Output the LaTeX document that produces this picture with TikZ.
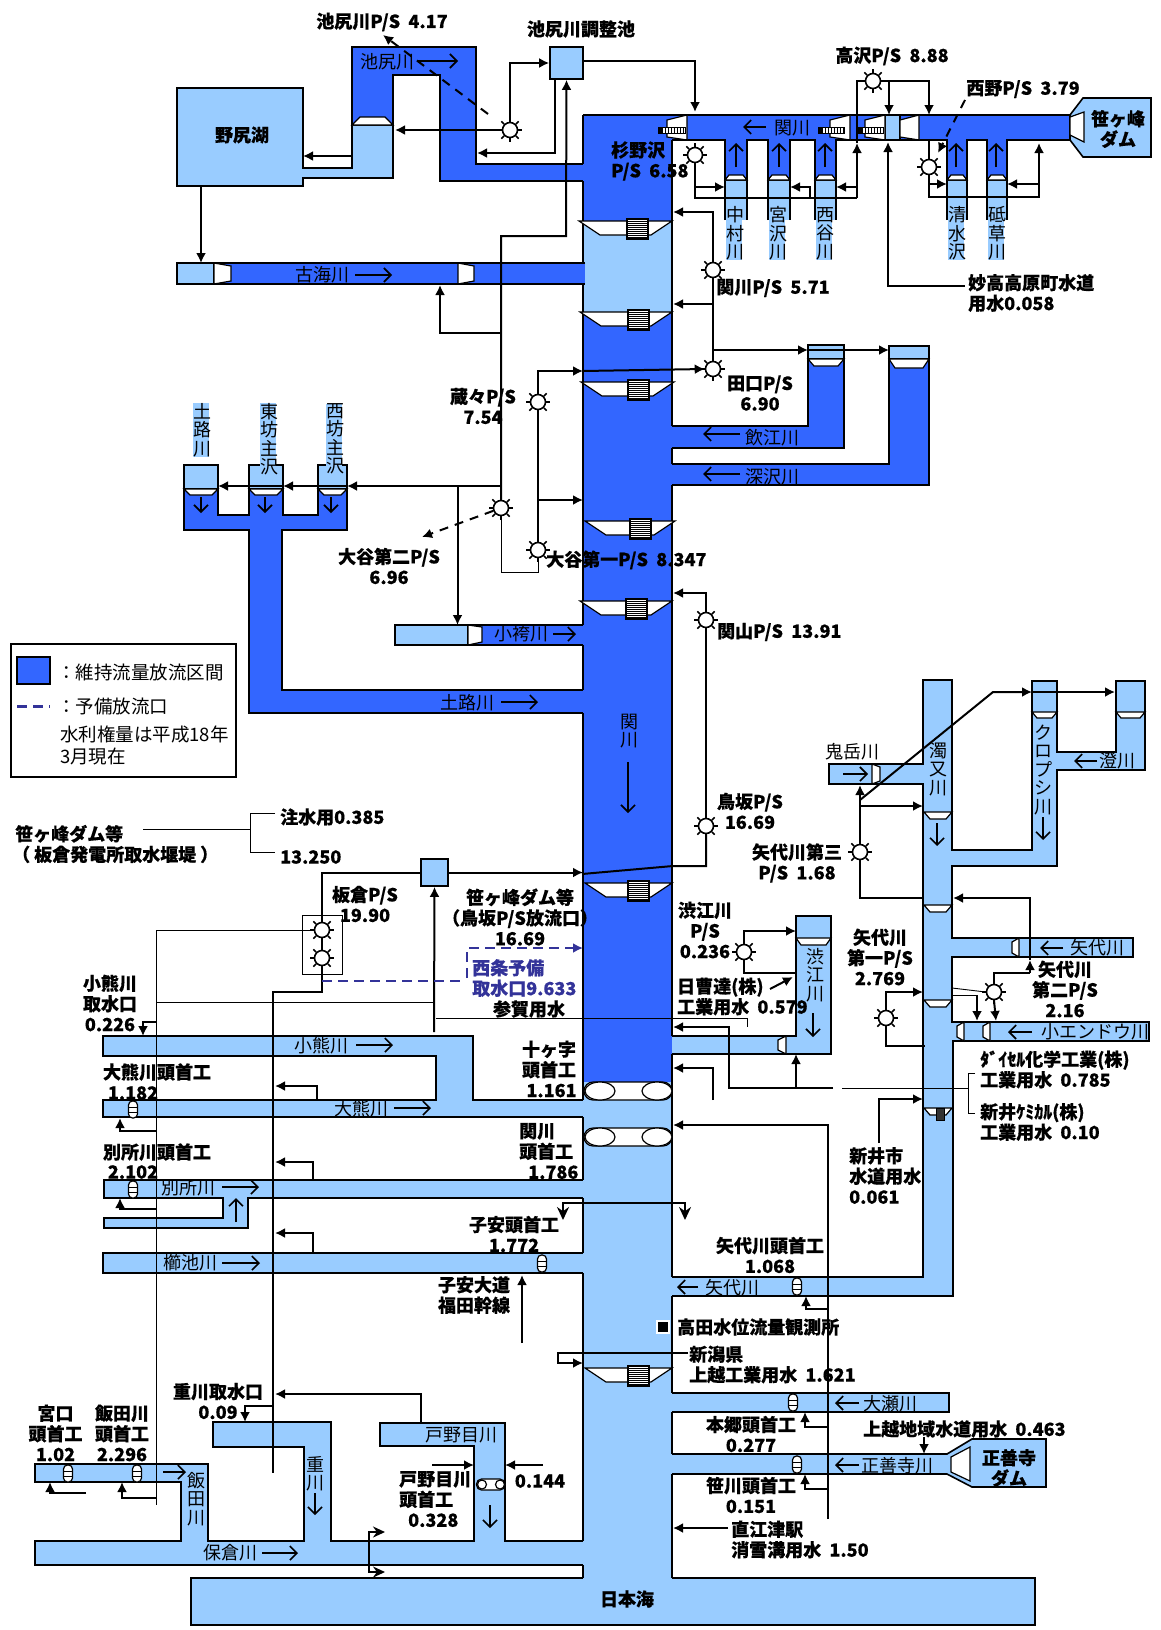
\documentclass[tikz,border=0pt]{standalone}
\usepackage{fontspec}
\usetikzlibrary{arrows.meta}
\newfontfamily\jp[WordSpace=2, BoldFeatures={FakeBold=0.4}]{Noto Sans CJK JP}
\definecolor{ltriver}{HTML}{99CCFF}
\definecolor{bluriver}{HTML}{3366FF}
\definecolor{spare}{HTML}{333399}
% x y: pixel position, first two arguments of each macro
\newcommand{\pump}[2]{\node[pumpnode] (#1) at (#2) {};
  \foreach \a in {0,45,...,315} \draw[line width=1.5pt] (#1.\a) -- ([shift={(\a:4pt)}]#1.\a);}
\newcommand{\weir}[5]{\draw[wr] (#1,#3) -- (#1+#5,#3+#4) -- (#2-#5,#3+#4) -- (#2,#3) -- cycle;}
\newcommand{\gatebox}[2]{\draw[line width=1.3pt, fill=white] (#1,#2) rectangle (#1+21,#2+20);
  \foreach \s in {2,4,...,18} \draw[line width=.9pt] (#1,#2+\s) -- (#1+21,#2+\s);}
\newcommand{\gateh}[2]{\draw[line width=1pt, fill=white] (#1,127) rectangle (#2,133);
  \fill (#1,127) rectangle (#1+5,133);
  \foreach \s in {7,10,...,25} \draw[line width=1pt] (#1+\s,127) -- (#1+\s,133);}
\newcommand{\rubber}[2]{\draw[wr, rounded corners=4pt] (#1-4.5,#2) rectangle (#1+4.5,#2+17);
  \draw[line width=.9pt] (#1-4,#2+6) -- (#1+4,#2+6) (#1-4,#2+11) -- (#1+4,#2+11);}
\begin{document}
\begin{tikzpicture}[x=1pt, y=-1pt,
  lab/.style={font=\jp\bfseries\fontsize{18}{20.5}\selectfont, inner sep=0pt, align=center},
  labl/.style={lab, anchor=west, align=left},
  rv/.style={font=\jp\fontsize{18}{20}\selectfont, inner sep=0pt},
  vlab/.style={font=\jp\fontsize{18}{18.5}\selectfont, inner sep=0pt, align=center, text width=16pt},
  lt/.style={fill=ltriver, draw=black, line width=1.6pt, line join=miter},
  bl/.style={fill=bluriver, draw=black, line width=1.6pt, line join=miter},
  wall/.style={line width=1.6pt},
  wr/.style={fill=white, draw=black, line width=1.2pt},
  pipe/.style={line width=2pt},
  arr/.style={pipe, -{Latex[length=10pt,width=10pt]}},
  thinp/.style={line width=.9pt},
  rarr/.style={line width=1.6pt, -{Straight Barb[length=7pt,width=14pt]}},
  dash1/.style={pipe, dashed, dash pattern=on 9pt off 7pt},
  dash2/.style={line width=2pt, color=spare, dash pattern=on 10pt off 6pt},
  pumpnode/.style={circle, draw, fill=white, line width=1.6pt, minimum size=15pt, inner sep=0pt},
  boxnode/.style={draw, fill=ltriver, line width=1.6pt, inner sep=0pt},
]
\useasboundingbox (0,0) rectangle (1160,1630);

\fill[bluriver] (583,115) rectangle (672,221);
\fill[ltriver] (583,221) rectangle (672,312);
\fill[bluriver] (583,312) rectangle (672,1082);
\fill[ltriver] (583,1082) rectangle (672,1578);

\draw[lt] (177,88) -- (303,88) -- (303,168) -- (352,168) -- (352,125) -- (393,125) -- (393,178) -- (303,178) -- (303,186) -- (177,186) -- cycle;
\draw[bl] (583,164) -- (476,164) -- (476,47) -- (352,47) -- (352,125) -- (393,125) -- (393,75) -- (440,75) -- (440,181) -- (583,181);
\draw[bl] (585,263) -- (177,263) -- (177,284) -- (585,284);
\draw[lt] (214,263) -- (177,263) -- (177,284) -- (214,284) -- cycle;
\draw[bl] (583,115) -- (1070,115) -- (1070,140) -- (1007,140) -- (1007,180) -- (987,180) -- (987,140) -- (967,140) -- (967,180) -- (947,180) -- (947,140) -- (836,140) -- (836,180) -- (815,180) -- (815,140) -- (790,140) -- (790,180) -- (768,180) -- (768,140) -- (747,140) -- (747,180) -- (725,180) -- (725,140) -- (672,140);
\draw[lt] (885,115) rectangle (900,140);
\draw[lt] (1070,115) -- (1083,98) -- (1151,98) -- (1151,157) -- (1083,157) -- (1070,140) -- cycle;
\foreach \lft/\rgt in {725/747,768/790,815/836,947/967,987/1007}
  \draw[lt] (\lft,220) -- (\lft,180) -- (\rgt,180) -- (\rgt,220);

\draw[bl] (672,426) -- (808,426) -- (808,345) -- (844,345) -- (844,448) -- (672,448);
\draw[bl] (672,464) -- (889,464) -- (889,346) -- (929,346) -- (929,485) -- (672,485);
\draw[lt] (808,359) -- (808,345) -- (844,345) -- (844,359) -- cycle;
\draw[lt] (889,359) -- (889,346) -- (929,346) -- (929,359) -- cycle;

\draw[bl] (583,690) -- (282,690) -- (282,530) -- (347,530) -- (347,489) -- (318,489) -- (318,515) -- (283,515) -- (283,489) -- (249,489) -- (249,515) -- (218,515) -- (218,489) -- (184,489) -- (184,530) -- (249,530) -- (249,713) -- (583,713);
\foreach \lft/\rgt in {184/218,249/283,318/347}
  \draw[lt] (\lft,489) -- (\lft,465) -- (\rgt,465) -- (\rgt,489) -- cycle;
\draw[bl] (583,625) -- (395,625) -- (395,645) -- (583,645);
\draw[lt] (468,625) -- (395,625) -- (395,645) -- (468,645) -- cycle;

\draw[lt] (583,1100) -- (473,1100) -- (473,1036) -- (103,1036) -- (103,1056) -- (436,1056) -- (436,1100) -- (103,1100) -- (103,1117) -- (583,1117);
\draw[lt] (583,1180) -- (104,1180) -- (104,1198) -- (223,1198) -- (223,1218) -- (104,1218) -- (104,1228) -- (248,1228) -- (248,1198) -- (583,1198);
\draw[lt] (583,1253) -- (103,1253) -- (103,1273) -- (583,1273);
\draw[lt] (583,1541) -- (505,1541) -- (505,1423) -- (380,1423) -- (380,1446) -- (474,1446) -- (474,1541) -- (331,1541) -- (331,1422) -- (213,1422) -- (213,1447) -- (304,1447) -- (304,1541) -- (208,1541) -- (208,1464) -- (35,1464) -- (35,1482) -- (181,1482) -- (181,1541) -- (35,1541) -- (35,1565) -- (583,1565);
\draw[lt] (583,1578) -- (191,1578) -- (191,1625) -- (1035,1625) -- (1035,1578) -- (672,1578);

\draw[lt] (672,1036) -- (796,1036) -- (796,916) -- (831,916) -- (831,1054) -- (672,1054);
\draw[lt] (672,1277) -- (923,1277) -- (923,784) -- (829,784) -- (829,764) -- (923,764) -- (923,680) -- (952,680) -- (952,850) -- (1032,850) -- (1032,681) -- (1057,681) -- (1057,752) -- (1116,752) -- (1116,681) -- (1145,681) -- (1145,770) -- (1057,770) -- (1057,866) -- (952,866) -- (952,938) -- (1133,938) -- (1133,957) -- (952,957) -- (952,1022) -- (1149,1022) -- (1149,1041) -- (953,1041) -- (953,1296) -- (672,1296);
\draw[lt] (672,1393) -- (949,1393) -- (949,1412) -- (672,1412);
\draw[lt] (672,1454) -- (947,1454) -- (972,1439) -- (1046,1439) -- (1046,1487) -- (972,1487) -- (947,1474) -- (672,1474);

\draw[wall] (583,115) -- (583,164) (583,181) -- (583,263) (583,284) -- (583,625) (583,645) -- (583,690) (583,713) -- (583,1100) (583,1117) -- (583,1180) (583,1198) -- (583,1253) (583,1273) -- (583,1541) (583,1565) -- (583,1578);
\draw[wall] (672,140) -- (672,426) (672,448) -- (672,464) (672,485) -- (672,1036) (672,1054) -- (672,1277) (672,1296) -- (672,1393) (672,1412) -- (672,1454) (672,1474) -- (672,1578);

\weir{352}{393}{125}{-8}{8}
\foreach \lft/\rgt in {725/747,768/790,815/836,947/967,987/1007} {\weir{\lft}{\rgt}{180}{-5}{4}}
\weir{808}{844}{359}{7}{6}
\weir{889}{929}{359}{9}{6}
\foreach \lft/\rgt in {184/218,249/283,318/347} {\weir{\lft}{\rgt}{489}{6}{6}}
\foreach \yy/\lft/\rgt/\bx in {221/579/672/627,312/580/672/628,382/581/674/628,521/585/675/630,601/580/672/626,883/585/672/628,1368/585/672/628} {
  \weir{\lft}{\rgt}{\yy}{14}{21}
  \gatebox{\bx}{\yy-2}
}
\foreach \yy in {812,905,1000} {\weir{924}{952}{\yy}{7}{6}}
\weir{924}{952}{1108}{7}{6}
\draw[fill=black!80] (936,1108) rectangle (944,1120);
\foreach \lft/\rgt in {1032/1057,1116/1145} {\weir{\lft}{\rgt}{712}{6}{5}}
\weir{796}{831}{938}{7}{5}

\draw[wr] (667,120) -- (687,115) -- (687,140) -- (667,137) -- cycle;
\draw[wr] (830,120) -- (850,115) -- (850,140) -- (830,137) -- cycle;
\draw[wr] (865,120) -- (885,115) -- (885,140) -- (865,137) -- cycle;
\draw[wr] (900,120) -- (919,115) -- (919,140) -- (900,137) -- cycle;
\draw[wr] (1070,117) -- (1084,112) -- (1084,142) -- (1070,135) -- cycle;
\gateh{658}{685}
\gateh{818}{844}
\gateh{858}{883}
\draw[wr] (214,263) -- (231,266) -- (231,281) -- (214,284) -- cycle;
\draw[wr] (458,263) -- (474,266) -- (474,281) -- (458,284) -- cycle;
\draw[wr] (468,625) -- (482,627) -- (482,642) -- (468,645) -- cycle;
\draw[wr] (872,764) -- (880,767) -- (880,781) -- (872,784) -- cycle;
\draw[wr] (786,1036) -- (778,1040) -- (778,1050) -- (786,1054) -- cycle;
\draw[wr] (1019,938) -- (1012,942) -- (1012,953) -- (1019,957) -- cycle;
\draw[wr] (964,1022) -- (957,1026) -- (957,1037) -- (964,1041) -- cycle;
\draw[wr] (990,1022) -- (983,1026) -- (983,1037) -- (990,1041) -- cycle;
\draw[wr] (951,1457) -- (970,1447) -- (970,1481) -- (951,1472) -- cycle;

\foreach \yy in {1082,1128} {
  \draw[wr, rounded corners=9pt] (584,\yy) rectangle (672,\yy+18);
  \draw[wr] (600,\yy+9) ellipse [x radius=15pt, y radius=9pt];
  \draw[wr] (657,\yy+9) ellipse [x radius=15pt, y radius=9pt];
}
\rubber{133}{1101}
\rubber{133}{1181}
\rubber{542}{1255}
\rubber{797}{1278}
\rubber{793}{1394}
\rubber{797}{1456}
\rubber{68}{1465}
\rubber{137}{1465}
\draw[wr, rounded corners=5pt] (476.5,1479) rectangle (505,1490);
\draw[wr] (482,1484.5) circle [radius=4.5pt];
\draw[wr] (500,1484.5) circle [radius=4.5pt];

\node[boxnode, minimum width=33pt, minimum height=32pt] (bIke) at (566.5,63) {};
\node[boxnode, minimum width=27pt, minimum height=27pt] (bItakura) at (434.5,872.5) {};
\node[draw, line width=1pt, minimum width=40pt, minimum height=59pt] (fItakura) at (322,944.5) {};

\pump{pIke}{510,130}
\pump{pTaka}{873,81}
\pump{pNishino}{929,167}
\pump{pSugino}{695,155}
\pump{pSeki}{713,270}
\pump{pTaguchi}{713,369}
\pump{pKura}{538,402}
\pump{pOtaniB}{501,508}
\pump{pOtaniA}{538,550}
\pump{pSekiyama}{706,620}
\pump{pTosaka}{706,826}
\pump{pYashiroC}{860,852}
\pump{pShibue}{744,952}
\pump{pYashiroA}{886,1018}
\pump{pYashiroB}{994,992}
\pump{pItakuraA}{322,930}
\pump{pItakuraB}{322,958}

\draw[arr] (pIke) |- (bIke.west);
\draw[arr] (pIke.west) -- (395,130);
\draw[arr] (555,79) -- (555,153) -- (477,153);
\draw[dash1, -{Latex[length=10pt,width=10pt]}] (488,114) -- (383,35);
\draw[arr] ([yshift=2pt]bIke.east) -| (695,112);
\draw[arr] (352,156) -- (303,156);
\draw[arr] (201,186) -- (201,263);
\draw[arr] (pOtaniB.north) -- (501,236) -- (566,236) -- (bIke.south);
\draw[arr] (501,333) -- (440,333) -- (440,285);
\draw[arr] (501,486) -- (347,486);
\draw[arr] (347,486) -- (283,486);
\draw[arr] (283,486) -- (218,486);
\draw[arr] (457.5,486) -- (457.5,625);
\draw[dash1, -{Latex[length=10pt,width=10pt]}] (pOtaniB) -- (422,537);
\draw[thinp] (pOtaniB.south) -- (501,572) -- (538,572) -- (pOtaniA.south);
\draw[pipe] (pOtaniA.north) -- (pKura.south);
\draw[arr] (pKura.north) |- (583,371);
\draw[arr] (538,500) -- (583,500);
\draw[arr] (583,371) -- (pTaguchi.west);
\draw[pipe] (pSeki.south) -- (pTaguchi.north);
\draw[arr] (pSeki.north) -- (713,212) -- (673,212);
\draw[arr] (713,304) -- (673,304);
\draw[arr] (713,350) -- (808,350);
\draw[arr] (808,350) -- (889,350);
\draw[pipe] (pSugino.south) -- (695,198) -- (857,198);
\draw[arr] (695,187) -- (725,187);
\draw[arr] (810,198) -- (810,187) -- (790,187);
\draw[arr] (857,187) -- (836,187);
\draw[arr] (857,198) -- (857,143);
\draw[pipe] (857,143) -- (857,81) -- (pTaka.west);
\draw[arr] (pTaka.east) -- (929,81) -- (929,115);
\draw[arr] (889,81) -- (889,115);
\draw[pipe] (929,140) -- (pNishino.north);
\draw[arr] (pNishino.south) -- (929,197) -- (1039,197) -- (1039,143);
\draw[arr] (929,184) -- (947,184);
\draw[arr] (1039,184) -- (1007,184);
\draw[dash1, -{Latex[length=10pt,width=10pt]}] (965,100) -- (938,153);
\draw[arr] (965,286) -- (888,286) -- (888,142);
\draw[arr] (pSekiyama.north) -- (706,593) -- (673,593);
\draw[pipe] (pSekiyama.south) -- (pTosaka.north);
\draw[pipe] (pTosaka.south) -- (706,866) -- (673,866) -- (582,874);
\draw[arr] (bItakura.east) -- (583,872.5);
\draw[pipe] (bItakura.west) -- (322,872.5) -- (pItakuraA.north);
\draw[pipe] (pItakuraA.south) -- (pItakuraB.north);
\draw[line width=1.4pt] (pItakuraB.south) -- (322,992) -- (273,992) -- (273,1473);
\draw[thinp] (pItakuraA.west) -- (156,930) -- (156,1505);
\draw[thinp] (156,1002) -- (434,1002);
\draw[arr] (434,1032) -- (bItakura.south);
\draw[thinp] (436,1018) -- (747,1018) -- (747,1027);
\draw[dash2] (322,981) -- (462,981);
\draw[dash2, -{Latex[length=10pt,width=10pt]}] (467,978) -- (467,948) -- (583,948);
\draw[arr] (833,1088) -- (729,1088) -- (729,1027) -- (673,1027);
\draw[arr] (796,1088) -- (796,1054);
\draw[thinp] (842,1088) -- (968,1088);
\draw[thinp] (975,1073) -- (968,1073) -- (968,1113) -- (975,1113);
\draw[arr] (713,1100) -- (713,1068) -- (673,1068);
\draw[arr] (828,1519) -- (828,1125) -- (673,1125);
\draw[arr] (pShibue.north) -- (744,931) -- (796,931);
\draw[pipe] (pShibue.south) -- (744,973) -- (797,973);
\draw[arr] (770,989) -- (793,977);
\draw[arr] (pYashiroA.north) -- (886,992) -- (923,992);
\draw[pipe] (pYashiroA.south) -- (886,1046) -- (925,1046);
\draw[pipe] (pYashiroB.north) -- (994,973) -- (1030,973);
\draw[arr] (1030,973) -- (1030,960);
\draw[arr] (1030,960) -- (1030,898) -- (953,898);
\draw[thinp] (952,988) -- (pYashiroB.west);
\draw[thinp] (952,995) -- (977,995);
\draw[arr] (977,995) -- (977,1021);
\draw[arr] (pYashiroB.south) -- (996,1021);
\draw[pipe] (pYashiroC.south) -- (860,898) -- (924,898);
\draw[arr] (pYashiroC.north) -- (860,785);
\draw[arr] (860,806) -- (923,806);
\draw[arr] (860,800) -- (993,692) -- (1032,692);
\draw[arr] (1032,692) -- (1115,692);
\draw[arr] (879,1143) -- (879,1099) -- (923,1099);
\draw[arr] (156,1022) -- (143,1022) -- (143,1036);
\draw[arr] (156,1131) -- (120,1131) -- (120,1118);
\draw[arr] (156,1209) -- (120,1209) -- (120,1198);
\draw[arr] (317,1100) -- (317,1086) -- (275,1086);
\draw[arr] (313,1180) -- (313,1162) -- (275,1162);
\draw[arr] (313,1253) -- (313,1233) -- (275,1233);
\draw[pipe, {Stealth[length=13pt,width=12pt]}-{Stealth[length=13pt,width=12pt]}] (563,1220) -- (563,1203) -- (685,1203) -- (685,1220);
\draw[arr] (522,1343) -- (522,1275);
\draw[arr] (828,1309) -- (806,1309) -- (806,1296);
\draw[arr] (828,1427) -- (805,1427) -- (805,1412);
\draw[arr] (828,1489) -- (805,1489) -- (805,1474);
\draw[arr] (924,1437) -- (924,1454);
\draw[arr] (728,1528) -- (673,1528);
\draw[arr] (688,1353) -- (558,1353) -- (558,1363) -- (583,1363);
\draw[arr] (421,1423) -- (421,1394) -- (275,1394);
\draw[arr] (273,1406) -- (245,1406) -- (245,1422);
\draw[arr] (86,1493) -- (50,1493) -- (50,1482);
\draw[arr] (157,1498) -- (122,1498) -- (122,1482);
\draw[arr] (432,1465) -- (474,1465);
\draw[arr] (543,1465) -- (505,1465);
\draw[pipe, {Stealth[length=12pt,width=11pt]}-{Stealth[length=12pt,width=11pt]}] (385,1532) -- (369,1532) -- (369,1572) -- (385,1572);
\draw[thinp] (143,829) -- (250,829);
\draw[thinp] (275,813) -- (250,813) -- (250,852) -- (275,852);

\draw[rarr] (417,61) -- (458,61);
\draw[rarr] (355,275) -- (392,275);
\draw[rarr] (766,127) -- (743,127);
\foreach \xx in {736,779,825,956,996} \draw[rarr] (\xx,167) -- (\xx,143);
\draw[rarr] (740,434) -- (703,434);
\draw[rarr] (740,474) -- (703,474);
\foreach \xx in {201,265,331} \draw[rarr] (\xx,497) -- (\xx,513);
\draw[rarr] (553,634) -- (576,634);
\draw[rarr] (501,702) -- (538,702);
\draw[rarr] (628,762) -- (628,813);
\draw[rarr] (843,774) -- (868,774);
\draw[rarr] (937,823) -- (937,846);
\draw[rarr] (1043,817) -- (1043,840);
\draw[rarr] (1097,761) -- (1074,761);
\draw[rarr] (1063,948) -- (1040,948);
\draw[rarr] (1032,1032) -- (1008,1032);
\draw[rarr] (813,1013) -- (813,1037);
\draw[rarr] (356,1045) -- (393,1045);
\draw[rarr] (394,1108) -- (431,1108);
\draw[rarr] (222,1187) -- (259,1187);
\draw[rarr] (236,1222) -- (236,1198);
\draw[rarr] (222,1263) -- (260,1263);
\draw[rarr] (698,1287) -- (677,1287);
\draw[rarr] (859,1403) -- (835,1403);
\draw[rarr] (859,1465) -- (835,1465);
\draw[rarr] (163,1472) -- (186,1472);
\draw[rarr] (315,1493) -- (315,1515);
\draw[rarr] (490,1505) -- (490,1528);
\draw[rarr] (262,1553) -- (298,1553);

\node[rv] (rIke) at (387,62) {池尻川};
\node[rv] (rFuru) at (322,275) {古海川};
\node[rv] (rSekiH) at (792,128) {関川};
\node[rv] (rIi) at (772,438) {飲江川};
\node[rv] (rFuka) at (772,477) {深沢川};
\node[rv] (rKoba) at (521,634) {小袴川};
\node[rv] (rDoro) at (467,703) {土路川};
\node[rv] (rOni) at (852,752) {鬼岳川};
\node[rv] (rSumi) at (1117,761) {澄川};
\node[rv] (rYashiroU) at (1097,948) {矢代川};
\node[rv] (rEndo) at (1095,1032) {小エンドウ川};
\node[rv] (rOguma) at (321,1046) {小熊川};
\node[rv] (rOkuma) at (361,1109) {大熊川};
\node[rv] (rBessho) at (188,1188) {別所川};
\node[rv] (rKushi) at (190,1263) {櫛池川};
\node[rv] (rYashiroL) at (732,1288) {矢代川};
\node[rv] (rOse) at (890,1404) {大瀬川};
\node[rv] (rShozen) at (897,1466) {正善寺川};
\node[rv] (rTono) at (461,1435) {戸野目川};
\node[rv] (rHokura) at (230,1553) {保倉川};

\node[vlab, fill=ltriver] (vNaka) at (734,233.5) {中\\村\\川};
\node[vlab, fill=ltriver] (vMiya) at (777,233.5) {宮\\沢\\川};
\node[vlab, fill=ltriver] (vNishi) at (824,233.5) {西\\谷\\川};
\node[vlab, fill=ltriver] (vShimizu) at (956,233.5) {清\\水\\沢};
\node[vlab, fill=ltriver] (vTo) at (996,233.5) {砥\\草\\川};
\node[vlab, fill=ltriver] (vDoro) at (201,430) {土\\路\\川};
\node[vlab, fill=ltriver] (vHigashi) at (268,439) {東\\坊\\主\\沢};
\node[vlab, fill=ltriver] (vNishib) at (334,439) {西\\坊\\主\\沢};
\node[vlab] (vSeki) at (628,731) {関\\川};
\node[vlab] (vNigori) at (937,769) {濁\\又\\川};
\node[vlab] (vKuro) at (1042,770) {ク\\ロ\\プ\\シ\\川};
\node[vlab] (vShibue) at (814,975) {渋\\江\\川};
\node[vlab] (vIida) at (195,1499) {飯\\田\\川};
\node[vlab] (vOmo) at (314,1474) {重\\川};

\node[lab] (tIkeP) at (382,22) {池尻川P/S 4.17};
\node[lab] (tIkeC) at (581,29) {池尻川調整池};
\node[lab] (tNojiri) at (242,135) {野尻湖};
\node[labl] (tSugi) at (611,161) {杉野沢\\P/S 6.58};
\node[lab] (tTaka) at (892,56) {高沢P/S 8.88};
\node[lab] (tNishino) at (1023,89) {西野P/S 3.79};
\node[lab] (tSasa) at (1118,129) {笹ヶ峰\\ダム};
\node[lab] (tSeki) at (773,288) {関川P/S 5.71};
\node[labl] (tMyoko) at (968,293) {妙高高原町水道\\用水0.058};
\node[lab] (tTaguchi) at (760,393) {田口P/S\\6.90};
\node[lab] (tKura) at (483,406) {蔵々P/S\\7.54};
\node[lab] (tOtaniB) at (389,566) {大谷第二P/S\\6.96};
\node[labl] (tOtaniA) at (546,560) {大谷第一P/S 8.347};
\node[labl] (tSekiyama) at (717,632) {関山P/S 13.91};
\node[lab] (tTosaka) at (750,811) {鳥坂P/S\\16.69};
\node[lab] (tYashiroC) at (797,863) {矢代川第三\\P/S 1.68};
\node[lab] (tShibue) at (705,930) {渋江川\\P/S\\0.236};
\node[lab] (tYashiroA) at (880,957) {矢代川\\第一P/S\\2.769};
\node[lab] (tYashiroB) at (1065,989) {矢代川\\第二P/S\\2.16};
\node[labl] (tDaicel) at (980,1069.5) {ﾀﾞｲｾﾙ化学工業(株)\\工業用水 0.785};
\node[labl] (tArai) at (980,1122) {新井ｹﾐｶﾙ(株)\\工業用水 0.10};
\node[labl] (tNisso) at (677,996.5) {日曹達(株)\\工業用水 0.579};
\node[labl] (tAraiC) at (849,1175.5) {新井市\\水道用水\\0.061};
\node[lab] (tItakura) at (365,904) {板倉P/S\\19.90};
\node[lab] (tSasaB) at (520,917) {笹ヶ峰ダム等\\（鳥坂P/S放流口）\\16.69};
\node[labl, text=spare] (tSaijo) at (472,978) {西条予備\\取水口9.633};
\node[lab] (tSanga) at (529,1009) {参賀用水};
\node[lab] (tJikka) at (549,1069) {十ヶ字\\頭首工\\\hspace*{5pt}1.161};
\node[labl] (tSekiH) at (519,1151) {関川\\頭首工\\\hspace*{9pt}1.786};
\node[lab] (tKoyasu) at (514,1234) {子安頭首工\\1.772};
\node[lab] (tKoyasuR) at (474,1295) {子安大道\\福田幹線};
\node[lab] (tYashiroH) at (770,1255) {矢代川頭首工\\1.068};
\node[fill=black, draw=white, line width=1.3pt, minimum size=12pt, inner sep=0pt] (mTakada) at (663,1327) {};
\node[labl] (tTakada) at (677,1327) {高田水位流量観測所};
\node[labl] (tNiigata) at (689,1364.5) {新潟県\\上越工業用水 1.621};
\node[lab] (tHongo) at (751,1434) {本郷頭首工\\0.277};
\node[labl] (tJoetsu) at (863,1429) {上越地域水道用水 0.463};
\node[lab] (tShozen) at (1009,1468) {正善寺\\ダム};
\node[lab] (tSasagawa) at (751,1495) {笹川頭首工\\0.151};
\node[labl] (tNaoetsu) at (731,1539.5) {直江津駅\\消雪溝用水 1.50};
\node[lab] (tSea) at (627,1599) {日本海};
\node[lab] (tOgumaI) at (110,1003) {小熊川\\取水口\\0.226};
\node[lab] (tOkumaH) at (157,1072) {大熊川頭首工};
\node[lab] (tOkumaV) at (133,1093) {1.182};
\node[lab] (tBesshoH) at (157,1152) {別所川頭首工};
\node[lab] (tBesshoV) at (133,1172) {2.102};
\node[lab] (tMiyaguchi) at (55.5,1433) {宮口\\頭首工\\1.02};
\node[lab] (tIida) at (122,1433) {飯田川\\頭首工\\2.296};
\node[lab] (tOmoI) at (218,1401) {重川取水口\\0.09};
\node[labl] (tTonoH) at (399,1499) {戸野目川\\頭首工\\\hspace*{9pt}0.328};
\node[lab] (tTonoV) at (540,1481) {0.144};
\node[labl] (tDam) at (12,844) {\hspace*{3pt}笹ヶ峰ダム等\\（\hspace{4pt}板倉発電所取水堰堤\hspace{4pt}）};
\node[labl] (tChusui) at (280,817) {注水用0.385};
\node[labl] (tDamV) at (280,857) {13.250};

\node[draw, line width=1.8pt, minimum width=225pt, minimum height=133pt] (legend) at (123.5,710.5) {};
\draw[bl, line width=1.8pt] (17,657) rectangle (50,684);
\draw[dash2, line width=3pt] (17,706) -- (50,706);
\node[rv, anchor=west, font=\jp\fontsize{18.5}{20}\selectfont] (lgA) at (57,672) {：維持流量放流区間};
\node[rv, anchor=west, font=\jp\fontsize{18.5}{20}\selectfont] (lgB) at (57,706) {：予備放流口};
\node[anchor=west, align=left, font=\jp\fontsize{18.5}{22}\selectfont, inner sep=0pt] (lgC) at (60,745) {水利権量は平成18年\\3月現在};
\end{tikzpicture}
\end{document}
